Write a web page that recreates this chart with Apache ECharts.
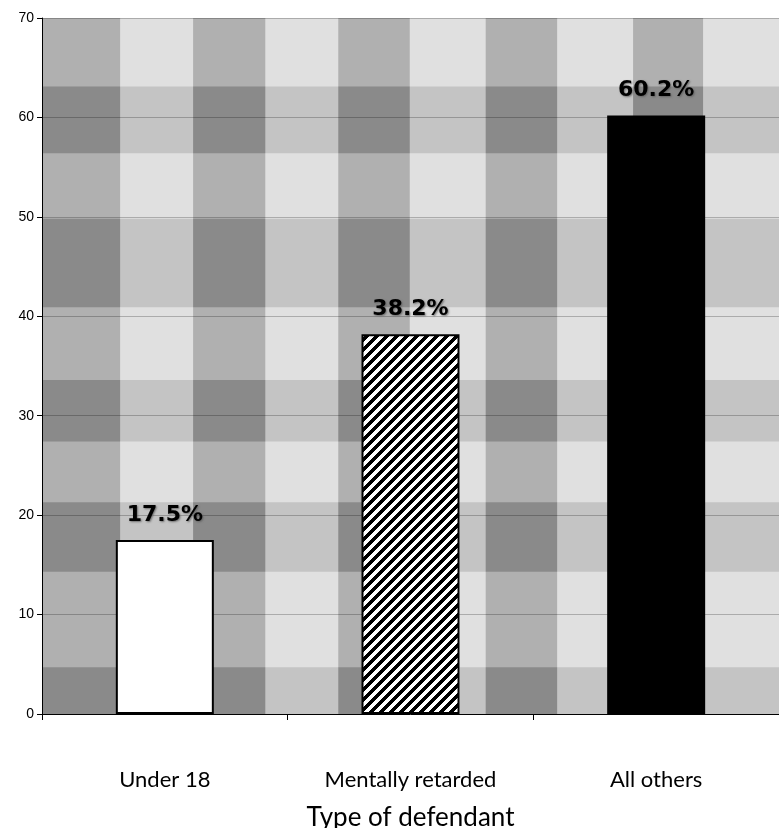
<!DOCTYPE html>
<html>
<head>
<meta charset="utf-8">
<script src="https://cdn.jsdelivr.net/npm/echarts@6/dist/echarts.min.js"></script>
<style>
html,body{margin:0;padding:0;background:#fff;}
#chart{width:779px;height:828px;}
</style>
</head>
<body>
<div id="chart"></div>
<script>
// ---- data ----
const categories = ["Under 18", "Mentally retarded", "All others"];
const values = [17.5, 38.2, 60.2];
const valueLabels = ["17.5%", "38.2%", "60.2%"];
const yTicks = [0, 10, 20, 30, 40, 50, 60, 70];
const axisTitle = "Type of defendant";
// background plaid: darker column bands (in tenths of plot width) and darker row bands (y values)
const plaidColumns = [[0, 1.06], [2.05, 3.03], [4.02, 4.99], [6.02, 6.99], [8.02, 8.97]];
const plaidRows = [[0, 4.7], [14.3, 21.3], [27.4, 33.6], [40.9, 49.8], [56.4, 63.1]];

// hatch pattern: crisp diagonal "/" stripes
function makeHatch() {
  const s = 10, w = 5;
  const c = document.createElement('canvas');
  c.width = s; c.height = s;
  const ctx = c.getContext('2d');
  const img = ctx.createImageData(s, s);
  for (let y = 0; y < s; y++) {
    for (let x = 0; x < s; x++) {
      const on = ((x + y) % s) < w;
      const v = on ? 0 : 255;
      const i = (y * s + x) * 4;
      img.data[i] = v; img.data[i + 1] = v; img.data[i + 2] = v; img.data[i + 3] = 255;
    }
  }
  ctx.putImageData(img, 0, 0);
  return c;
}
const hatch = makeHatch();

const barFills = ['#ffffff', { image: hatch, repeat: 'repeat' }, '#000000'];

const markAreaData = [];
plaidColumns.forEach(c => {
  markAreaData.push([{ xAxis: c[0], yAxis: 0, itemStyle: { color: 'rgba(0,0,0,0.21)' } }, { xAxis: c[1], yAxis: 70 }]);
});
plaidRows.forEach(r => {
  markAreaData.push([{ xAxis: 0, yAxis: r[0], itemStyle: { color: 'rgba(0,0,0,0.12)' } }, { xAxis: 10, yAxis: r[1] }]);
});
plaidColumns.forEach(c => {
  plaidRows.forEach(r => {
    markAreaData.push([{ xAxis: c[0], yAxis: r[0], itemStyle: { color: 'rgba(0,0,0,0.10)' } }, { xAxis: c[1], yAxis: r[1] }]);
  });
});

const chart = echarts.init(document.getElementById('chart'), null, { renderer: 'canvas' });
chart.setOption({
  animation: false,
  grid: { left: 42, right: 0, top: 18, bottom: 114, show: true, backgroundColor: '#e0e0e0', borderWidth: 0,
          outerBoundsMode: 'none', containLabel: false },
  xAxis: [
    {
      type: 'category',
      data: categories,
      axisLine: { show: true, lineStyle: { color: '#000', width: 1 } },
      axisTick: { show: true, length: 6, lineStyle: { color: '#000' } },
      axisLabel: { fontFamily: 'Lato', fontSize: 22, color: '#000', margin: 55 },
      name: axisTitle,
      nameLocation: 'middle',
      nameGap: 91,
      nameTextStyle: { fontFamily: 'Lato', fontSize: 26, color: '#000' }
    },
    { type: 'value', min: 0, max: 10, show: false }
  ],
  yAxis: {
    type: 'value',
    min: 0, max: 70, interval: 10,
    axisLine: { show: true, lineStyle: { color: '#000', width: 1 } },
    axisTick: { show: true, length: 5, lineStyle: { color: '#000' } },
    axisLabel: { fontFamily: 'Liberation Sans', fontSize: 14, color: '#000', margin: 8,
      formatter: v => yTicks.includes(v) ? String(v) : '' },
    splitLine: { show: true, lineStyle: { color: 'rgba(50,50,50,0.3)', width: 1 } }
  },
  series: [
    {
      type: 'scatter',
      xAxisIndex: 1,
      data: [[0, 0]],
      symbolSize: 0,
      silent: true,
      z: 0,
      markArea: { silent: true, data: markAreaData }
    },
    {
      type: 'bar',
      xAxisIndex: 0,
      z: 3,
      barWidth: 98,
      data: values.map((v, i) => ({
        value: v,
        itemStyle: { color: barFills[i], borderColor: '#000', borderWidth: 2 }
      })),
      label: {
        show: true,
        position: 'top',
        distance: 14,
        formatter: p => valueLabels[p.dataIndex],
        fontFamily: 'DejaVu Sans',
        fontWeight: 'bold',
        fontSize: 22,
        color: '#000',
        textShadowColor: 'rgba(90,90,90,0.8)',
        textShadowBlur: 2,
        textShadowOffsetX: 1,
        textShadowOffsetY: 1
      }
    }
  ]
});
</script>
</body>
</html>
